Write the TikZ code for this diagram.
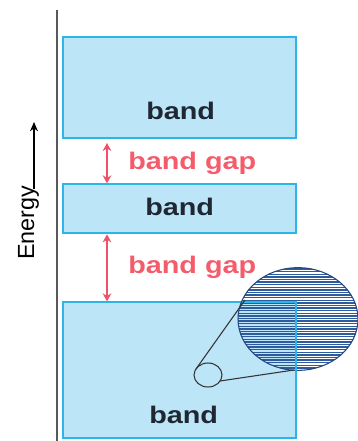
\documentclass[tikz,border=0pt]{standalone}
\usepackage{fontspec}
\setmainfont{Liberation Sans}
\usetikzlibrary{arrows.meta,shapes.geometric}
\definecolor{bandfill}{HTML}{BDE5F8}
\definecolor{bandline}{HTML}{2DB4E8}
\definecolor{gapred}{HTML}{F0506A}
\definecolor{gaptext}{HTML}{F45C6C}
\definecolor{labtext}{HTML}{1F2733}
\definecolor{hatch}{HTML}{2E5A9E}
\tikzset{
  bandbox/.style={fill=bandfill, draw=bandline, line width=1pt},
  bandlabel/.style={anchor=base west, inner sep=0pt, font=\fontsize{18}{20}\selectfont\bfseries, text=labtext},
  gaplabel/.style={anchor=base west, inner sep=0pt, font=\fontsize{18}{20}\selectfont\bfseries, text=gaptext},
  gaparrow/.style={draw=gapred, line width=1pt, {Stealth[length=6pt,width=6.5pt]}-{Stealth[length=6pt,width=6.5pt]}},
  zoomline/.style={draw=black!80, line width=0.8pt}
}
\begin{document}
\begin{tikzpicture}[x=0.75pt,y=-0.75pt]
\useasboundingbox (0,0) rectangle (357,441);
% axis
\draw[black!65, line width=1.1pt] (57,10) -- (57,441);
% energy
\node[rotate=90, anchor=base west, inner sep=0pt, font=\fontsize{17.5}{20}\selectfont] (en) at (34,260) {Energy};
\coordinate (ea) at (34,189);
\coordinate (eb) at (34,122);
\draw[line width=0.9pt, -{Stealth[length=7pt,width=6pt]}] (ea) -- (eb);
% bands
\path[bandbox] (63,37) rectangle (296,138);
\path[bandbox] (63,184) rectangle (296,233);
\path[bandbox] (63,302) rectangle (296,438);
\coordinate (b1) at (107,139);
\coordinate (b2t) at (107,184);
\coordinate (b2b) at (107,233);
\coordinate (b3) at (107,302);
% labels
\node[bandlabel] (l1) at (146,120) {\scalebox{1.2}[1]{band}};
\node[bandlabel] (l2) at (145,215) {\scalebox{1.2}[1]{band}};
\node[bandlabel] (l3) at (149,423) {\scalebox{1.2}[1]{band}};
\node[gaplabel] (g1) at (128,170) {\scalebox{1.2}[1]{band gap}};
\node[gaplabel] (g2) at (128,273) {\scalebox{1.2}[1]{band gap}};
% gap arrows
\draw[gaparrow, shorten <=3pt, shorten >=0.5pt] (b1) -- (b2t);
\draw[gaparrow, shorten <=1pt, shorten >=0.5pt] (b2b) -- (b3);
% magnifier
\begin{scope}
  \fill[white] (298,319) ellipse [x radius=45pt, y radius=38.5pt];
  \clip (298,319) ellipse [x radius=45pt, y radius=38.5pt];
  \fill[bandfill] (63,302) rectangle (296,438);
  \foreach \yy in {266.5,269.1,...,373} {
    \draw[hatch, line width=1.05pt] (230,\yy) -- (362,\yy);
  }
  \draw[bandline, line width=1pt] (63,302) -- (296,302) -- (296,438);
\end{scope}
\draw[draw=hatch!80!black, line width=0.8pt] (298,319) ellipse [x radius=45pt, y radius=38.5pt];
\draw[bandline, line width=1pt] (296,357) -- (296,438);
\node[draw=black!80, line width=0.8pt, ellipse, minimum width=21pt, minimum height=18pt, inner sep=0pt] (sc) at (208,375) {};
\coordinate (t1) at (196,369);
\coordinate (t2) at (245,300);
\coordinate (u1) at (220,381);
\coordinate (u2) at (294,370);
\draw[zoomline] (t1) -- (t2);
\draw[zoomline] (u1) -- (u2);
\end{tikzpicture}
\end{document}
